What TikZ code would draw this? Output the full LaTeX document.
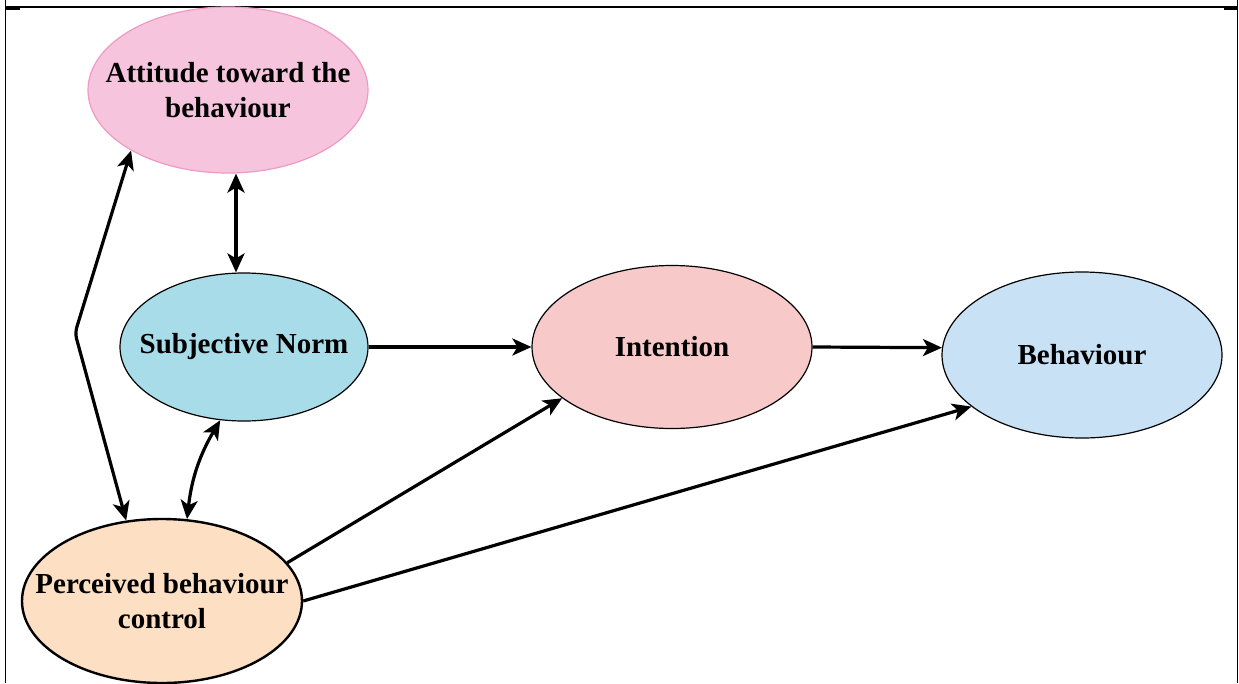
\documentclass[tikz,border=0pt]{standalone}
\usepackage{fontspec}
\setmainfont{Liberation Serif}
\usetikzlibrary{shapes.geometric,arrows.meta}
\definecolor{attfill}{HTML}{F6C4DC}
\definecolor{attdraw}{HTML}{EE9AC4}
\definecolor{snfill}{HTML}{A7DCE8}
\definecolor{intfill}{HTML}{F8C9C9}
\definecolor{behfill}{HTML}{C9E1F4}
\definecolor{perfill}{HTML}{FDDFC4}
\newcommand{\zl}[1]{\makebox[0pt]{#1}}
\tikzset{
  oval/.style={ellipse, inner sep=0pt, align=center, line width=1.2pt,
    font=\fontsize{29}{35}\selectfont\bfseries},
  conn/.style={line width=3.2pt, -{Stealth[length=19pt,width=17pt,inset=5pt]}},
  biconn/.style={line width=3.2pt, {Stealth[length=19pt,width=17pt,inset=5pt]}-{Stealth[length=19pt,width=17pt,inset=5pt]}},
  frame/.style={line width=1.4pt, black}
}
\begin{document}
\begin{tikzpicture}[x=1pt,y=-1pt]
\useasboundingbox (0,0) rectangle (1239,683);
% table borders
\draw[frame] (5.5,0) -- (5.5,683);
\draw[frame] (1237.5,0) -- (1237.5,683);
\draw[frame] (5.5,7) -- (1237.5,7);
\draw[frame] (5.5,8.8) -- (20,8.8);
\draw[frame] (1224,8.8) -- (1237.5,8.8);
% nodes
\node[oval, draw=attdraw, fill=attfill, minimum width=280pt, minimum height=166pt] (att) at (228,90) {\zl{Attitude toward the}\\\zl{behaviour}};
\node[oval, draw=black, fill=snfill, minimum width=248pt, minimum height=148pt] (sn) at (244,347) {\zl{Subjective Norm}};
\node[oval, draw=black, fill=intfill, minimum width=280pt, minimum height=163pt] (int) at (672,347) {\zl{Intention}};
\node[oval, draw=black, fill=behfill, minimum width=280pt, minimum height=166pt] (beh) at (1082,355) {\zl{Behaviour}};
\node[oval, draw=black, line width=2.4pt, fill=perfill, minimum width=280pt, minimum height=164pt] (per) at (162,601) {\zl{Perceived behaviour}\\\zl{control}};
\coordinate (bend) at (75,333);
% connectors
\draw[biconn, rounded corners=6pt] (att.212) -- (bend) -- (per.114);
\draw[biconn] ([xshift=8pt]att.south) -- ([xshift=-8pt]sn.north);
\draw[biconn] (sn.252) to[bend right=12] (per.73);
\draw[conn] (sn.east) -- (int.west);
\draw[conn] (int.east) -- (beh.177);
\draw[conn] (per.17) -- (int.205);
\draw[conn] (per.east) -- (beh.205);
\end{tikzpicture}
\end{document}
